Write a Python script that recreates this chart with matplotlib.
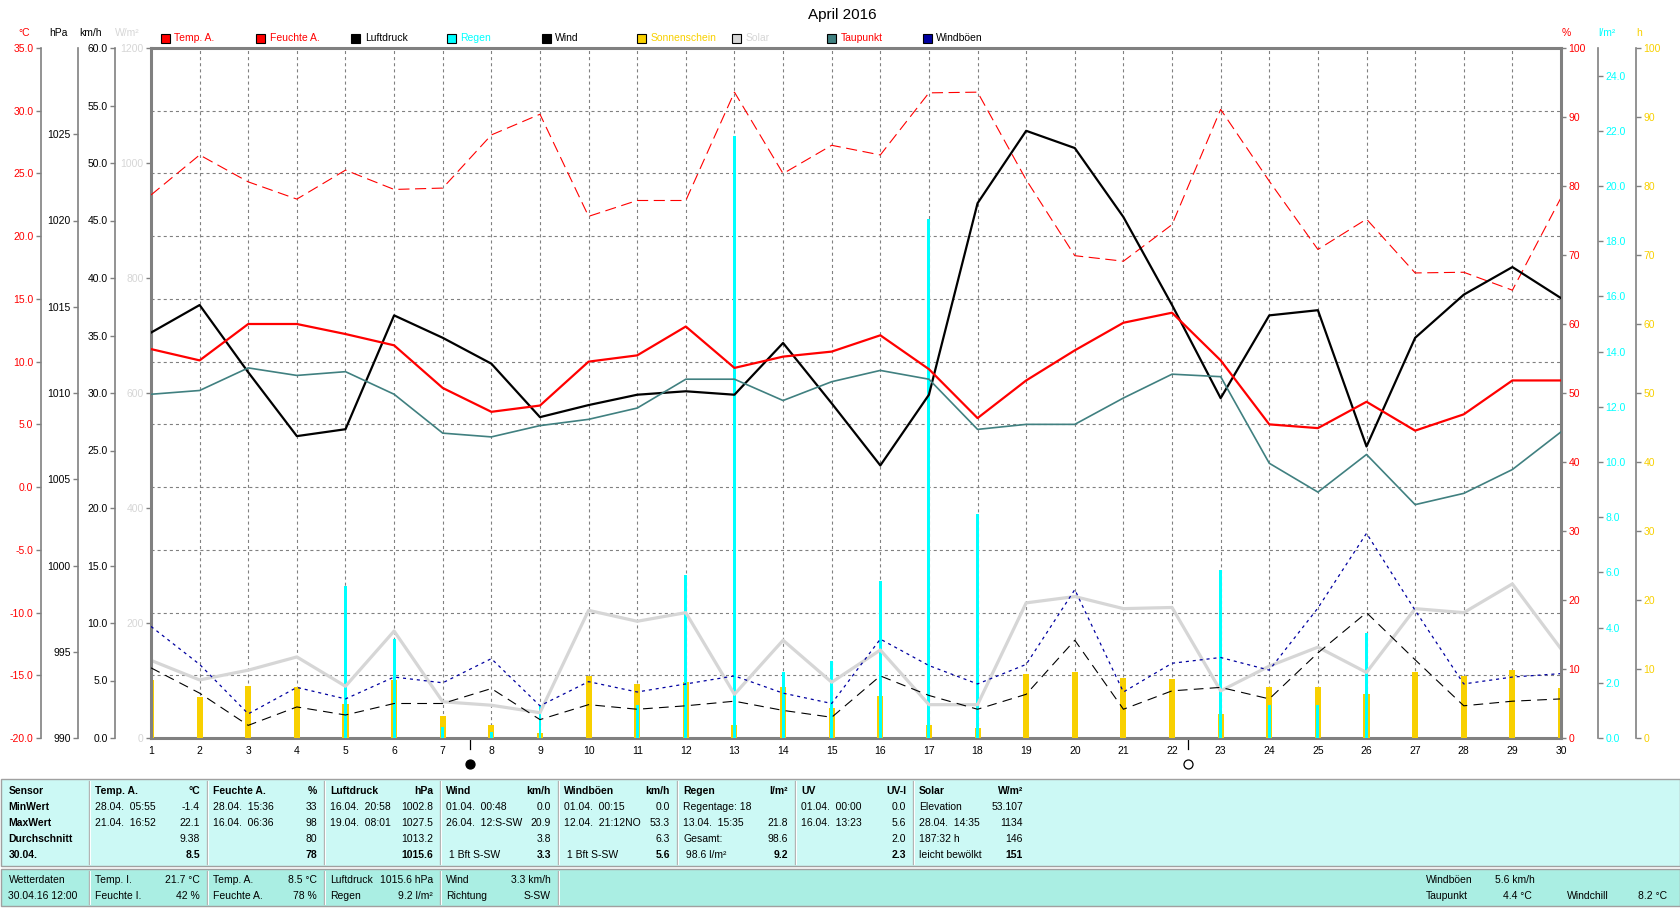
import numpy as np
import matplotlib
matplotlib.use('Agg')
import matplotlib.pyplot as plt
from matplotlib.patches import Rectangle
from matplotlib.ticker import FixedLocator, FormatStrFormatter

plt.rcParams['font.family'] = ['Liberation Sans', 'DejaVu Sans']
plt.rcParams['lines.scale_dashes'] = False
plt.rcParams['axes.unicode_minus'] = False

# daily values April 2016
days = np.arange(1, 31)
temp = [11.0, 10.1, 13.0, 13.0, 12.2, 11.3, 7.9, 6.0, 6.5, 10.0, 10.5, 12.8, 9.5, 10.4, 10.8,
        12.1, 9.4, 5.5, 8.5, 10.9, 13.1, 13.9, 10.1, 5.0, 4.7, 6.8, 4.5, 5.8, 8.5, 8.5]
hum = [78.7, 84.5, 80.6, 78.1, 82.3, 79.5, 79.7, 87.4, 90.4, 75.6, 77.9, 77.9, 93.6, 81.8, 85.9,
       84.5, 93.5, 93.6, 80.9, 69.9, 69.1, 74.4, 91.1, 80.7, 70.8, 75.2, 67.4, 67.5, 64.9, 78.3]
pres = [1013.5, 1015.1, 1011.2, 1007.5, 1007.9, 1014.5, 1013.2, 1011.7, 1008.6, 1009.3,
        1009.9, 1010.1, 1009.9, 1012.9, 1009.4, 1005.8, 1009.9, 1021.0, 1025.2, 1024.2,
        1020.2, 1015.1, 1009.7, 1014.5, 1014.8, 1006.9, 1013.2, 1015.7, 1017.3, 1015.5]
dew = [7.4, 7.7, 9.5, 8.9, 9.2, 7.4, 4.3, 4.0, 4.9, 5.4, 6.3, 8.6, 8.6, 6.9, 8.4,
       9.3, 8.6, 4.6, 5.0, 5.0, 7.1, 9.0, 8.8, 1.9, -0.4, 2.6, -1.4, -0.5, 1.4, 4.4]
wind = [6.1, 3.9, 1.1, 2.7, 2.0, 3.0, 3.0, 4.3, 1.6, 2.9, 2.5, 2.8, 3.2, 2.4, 1.8,
        5.4, 3.7, 2.5, 3.8, 8.5, 2.5, 4.1, 4.4, 3.4, 7.4, 10.9, 6.8, 2.8, 3.2, 3.4]
gust = [9.7, 6.4, 2.1, 4.4, 3.4, 5.3, 4.8, 6.9, 2.8, 4.9, 4.0, 4.7, 5.4, 3.9, 3.0,
        8.6, 6.3, 4.7, 6.4, 12.9, 4.0, 6.5, 7.0, 5.9, 11.3, 17.8, 11.1, 4.7, 5.3, 5.6]
solar = [135, 101, 118, 141, 90, 186, 63, 57, 44, 222, 203, 218, 76, 170, 97,
         153, 58, 58, 235, 246, 225, 227, 82, 125, 158, 114, 225, 218, 268, 155]
rain = [0, 0, 0, 0, 5.5, 3.6, 0.4, 0.2, 1.2, 0, 1.2, 5.9, 21.8, 2.4, 2.8,
        5.7, 18.8, 8.1, 0, 0, 0, 0, 6.1, 1.2, 1.2, 3.8, 0, 0, 0, 9.2]
sun = [8.4, 5.9, 7.5, 7.4, 4.9, 8.4, 3.2, 1.9, 0.7, 9.0, 7.8, 8.1, 1.9, 7.4, 4.3,
       6.1, 1.9, 1.4, 9.3, 9.6, 8.7, 8.6, 3.5, 7.4, 7.4, 6.4, 9.6, 9.0, 9.9, 7.2]
moon_days = [7.56, 22.33]          # Neumond, Vollmond
moon_face = ['black', 'white']

legend_labels = ['Temp. A.', 'Feuchte A.', 'Luftdruck', 'Regen', 'Wind',
                 'Sonnenschein', 'Solar', 'Taupunkt', 'Windböen']

# summary table
tab_left = [
    ['Sensor', 'MinWert', 'MaxWert', 'Durchschnitt', '30.04.'],
    ['Temp. A.', '28.04.  05:55', '21.04.  16:52', '', ''],
    ['Feuchte A.', '28.04.  15:36', '16.04.  06:36', '', ''],
    ['Luftdruck', '16.04.  20:58', '19.04.  08:01', '', ''],
    ['Wind', '01.04.  00:48', '26.04.  12:S-SW', '', ' 1 Bft S-SW'],
    ['Windböen', '01.04.  00:15', '12.04.  21:12NO', '', ' 1 Bft S-SW'],
    ['Regen', 'Regentage: 18', '13.04.  15:35', 'Gesamt:', ' 98.6 l/m²'],
    ['UV', '01.04.  00:00', '16.04.  13:23', '', ''],
    ['Solar', 'Elevation', '28.04.  14:35', '187:32 h', 'leicht bewölkt'],
]
tab_right = [
    ['', '', '', '', ''],
    ['°C', '-1.4', '22.1', '9.38', '8.5'],
    ['%', '33', '98', '80', '78'],
    ['hPa', '1002.8', '1027.5', '1013.2', '1015.6'],
    ['km/h', '0.0', '20.9', '3.8', '3.3'],
    ['km/h', '0.0', '53.3', '6.3', '5.6'],
    ['l/m²', '', '21.8', '98.6', '9.2'],
    ['UV-I', '0.0', '5.6', '2.0', '2.3'],
    ['W/m²', '53.107', '1134', '146', '151'],
]
now_left = [['Wetterdaten', '30.04.16 12:00'], ['Temp. I.', 'Feuchte I.'],
            ['Temp. A.', 'Feuchte A.'], ['Luftdruck', 'Regen'], ['Wind', 'Richtung']]
now_right = [['', ''], ['21.7 °C', '42 %'], ['8.5 °C', '78 %'],
             ['1015.6 hPa', '9.2 l/m²'], ['3.3 km/h', 'S-SW']]
now_extra = ['Windböen', '5.6 km/h', 'Taupunkt', '4.4 °C', 'Windchill', '8.2 °C']

RED = '#ff0000'
CYAN = '#00ffff'
GOLD = '#f8d000'
LGRAY = '#d6d6d6'
TEAL = '#408080'
BLUE = '#0000a0'
GRAY = '#808080'
FS = 7.5

fig = plt.figure(figsize=(16.8, 9.09), dpi=100)
bg = fig.add_axes([0, 0, 1, 1])
bg.set_xlim(0, 1680)
bg.set_ylim(909, 0)
bg.axis('off')

ax = fig.add_axes([151 / 1680, 171 / 909, 1410 / 1680, 690 / 909])


def scale_axis(a, side, offset, lim, ticks, fmt, color, lw=1.2):
    a.set_ylim(*lim)
    for s in a.spines.values():
        s.set_visible(False)
    sp = a.spines[side]
    sp.set_visible(True)
    sp.set_position(('outward', offset))
    sp.set_color(GRAY)
    sp.set_linewidth(lw)
    a.yaxis.set_ticks_position(side)
    a.yaxis.set_major_locator(FixedLocator(ticks))
    a.yaxis.set_major_formatter(FormatStrFormatter(fmt))
    a.tick_params(axis='y', colors=GRAY, labelcolor=color, length=3.5,
                  width=1, pad=1.8, labelsize=FS)


# main axes: temperature scale, grid and frame
scale_axis(ax, 'left', 79.4, (-20, 35), np.arange(-20, 36, 5), '%.1f', RED)
for s in ['top', 'bottom']:
    ax.spines[s].set_visible(True)
    ax.spines[s].set_color(GRAY)
    ax.spines[s].set_linewidth(2.2)
ax.grid(True, color=GRAY, linestyle=(0, (2.2, 2.2)), linewidth=0.8)
ax.set_axisbelow(True)
ax.set_xticks(days)
ax.tick_params(axis='x', length=0, pad=6, labelsize=FS, labelcolor='black')

ax_sun = ax.twinx()
scale_axis(ax_sun, 'right', 54, (0, 100), np.arange(0, 101, 10), '%d', GOLD)
ax_sun.bar(days, sun, width=0.125, color=GOLD, linewidth=0)

ax_rain = ax.twinx()
scale_axis(ax_rain, 'right', 26.6, (0, 25), np.arange(0, 25, 2), '%.1f', CYAN)
ax_rain.bar(days, rain, width=0.06, color=CYAN, linewidth=0)

ax_sol = ax.twinx()
scale_axis(ax_sol, 'left', 0, (0, 1200), np.arange(0, 1201, 200), '%d', LGRAY, lw=2.2)
ax_sol.plot(days, solar, color=LGRAY, lw=2.3)

ax_w = ax.twinx()
scale_axis(ax_w, 'left', 25.9, (0, 60), np.arange(0, 61, 5), '%.1f', 'black')
ax_w.plot(days, wind, color='black', lw=0.8, dashes=(7, 4.5))
ax_w.plot(days, gust, color=BLUE, lw=0.9, dashes=(2.2, 2.8))

ax_h = ax.twinx()
scale_axis(ax_h, 'right', 0, (0, 100), np.arange(0, 101, 10), '%d', RED, lw=2.2)
ax_h.plot(days, hum, color=RED, lw=0.8, dashes=(8, 4))

ax_p = ax.twinx()
scale_axis(ax_p, 'left', 52.6, (990, 1030), np.arange(990, 1026, 5), '%d', 'black')
ax_p.plot(days, pres, color='black', lw=1.6)

ax_top = ax.twinx()
ax_top.set_ylim(-20, 35)
ax_top.set_axis_off()
ax_top.plot(days, dew, color=TEAL, lw=1.2)
ax_top.plot(days, temp, color=RED, lw=1.6)

# moon phases below the day axis
trans = ax.get_xaxis_transform()
for d, f in zip(moon_days, moon_face):
    ax.plot([d, d], [0, -0.016], color='black', lw=0.9, transform=trans, clip_on=False)
    ax.plot(d, -0.037, marker='o', ms=6.5, mfc=f, mec='black', mew=0.9,
            transform=trans, clip_on=False)
ax.set_xlim(1, 30)

# units above the scales
for txt, x, c in [('°C', 24, RED), ('hPa', 58, 'black'), ('km/h', 91, 'black'),
                  ('W/m²', 127, LGRAY), ('%', 1566, RED), ('l/m²', 1607, CYAN),
                  ('h', 1639, GOLD)]:
    bg.text(x, 32.5, txt, color=c, fontsize=FS, ha='center', va='center')

bg.text(842, 15, 'April 2016', fontsize=11, ha='center', va='center')

# legend
sq_colors = [RED, RED, 'black', CYAN, 'black', GOLD, LGRAY, TEAL, BLUE]
txt_colors = [RED, RED, 'black', CYAN, 'black', GOLD, LGRAY, RED, 'black']
for i, lab in enumerate(legend_labels):
    x0 = 161 + i * 95.2
    bg.add_patch(Rectangle((x0, 33.5), 9, 9, facecolor=sq_colors[i], edgecolor='black', lw=0.8))
    bg.text(x0 + 13.5, 38, lab, color=txt_colors[i], fontsize=FS, ha='left', va='center')

# table bands
bg.add_patch(Rectangle((0.5, 779), 1679, 87, facecolor='#ccf9f5', edgecolor='#a0a0a0', lw=1))
bg.add_patch(Rectangle((0.5, 869), 1679, 37, facecolor='#aaeee3', edgecolor='#a0a0a0', lw=1))
edges = [0, 89, 207, 324, 440, 558, 677, 795, 913, 1030]
for x in edges[1:9]:
    bg.plot([x, x], [781, 864], color='#b4b4b4', lw=1)
    bg.plot([x + 1, x + 1], [781, 864], color='white', lw=0.7)
for x in edges[1:6]:
    bg.plot([x, x], [871, 904], color='#b4b4b4', lw=1)
    bg.plot([x + 1, x + 1], [871, 904], color='white', lw=0.7)

rows1 = [791, 807, 823, 839, 855]
for i in range(9):
    for j, y in enumerate(rows1):
        bold = (i == 0) or (j == 0)
        xl = 8.5 if i == 0 else edges[i] + 6
        bg.text(xl, y, tab_left[i][j], fontsize=FS, ha='left', va='center',
                fontweight='bold' if bold else 'normal')
        rb = (j == 0) or (j == 4)
        bg.text(edges[i + 1] - 7, y, tab_right[i][j], fontsize=FS, ha='right', va='center',
                fontweight='bold' if rb else 'normal')

rows2 = [880, 896]
for i in range(5):
    for j, y in enumerate(rows2):
        xl = 8.5 if i == 0 else edges[i] + 6
        bg.text(xl, y, now_left[i][j], fontsize=FS, ha='left', va='center')
        bg.text(edges[i + 1] - 7, y, now_right[i][j], fontsize=FS, ha='right', va='center')

extra_pos = [(1426, 880, 'left'), (1495, 880, 'left'), (1426, 896, 'left'),
             (1503, 896, 'left'), (1567, 896, 'left'), (1667, 896, 'right')]
for txt, (x, y, ha) in zip(now_extra, extra_pos):
    bg.text(x, y, txt, fontsize=FS, ha=ha, va='center')

fig.savefig('out.png', dpi=100)
